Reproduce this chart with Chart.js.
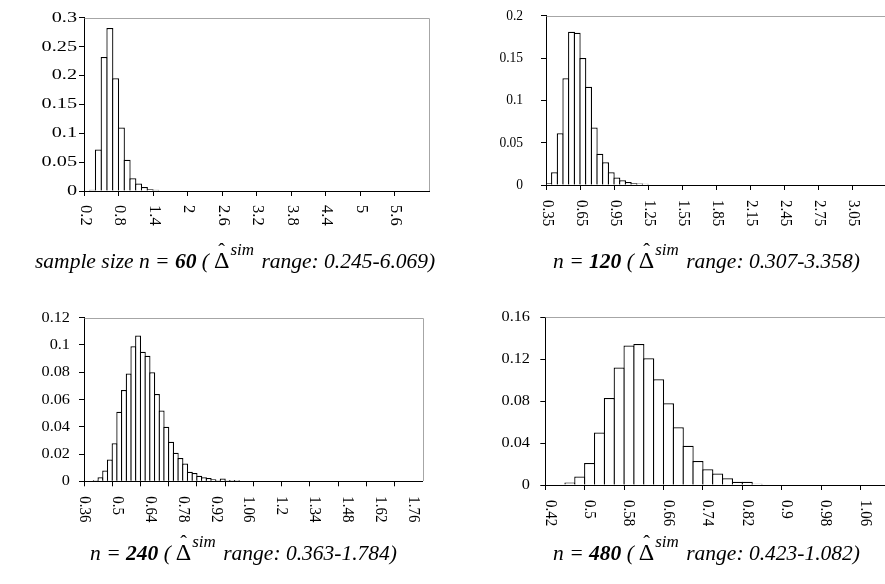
<!DOCTYPE html>
<html>
<head>
<meta charset="utf-8">
<script src="https://cdn.jsdelivr.net/npm/chart.js@4.4.1/dist/chart.umd.min.js"></script>
<style>
html, body { margin: 0; padding: 0; background: #fff; overflow: hidden; width: 885px; height: 584px; }
canvas { position: absolute; }
.cap { position: absolute; font: italic 21.5px 'Liberation Serif', 'Times New Roman', serif; line-height: 22px; white-space: nowrap; color: #000; }
.cap b { font-weight: bold; }
.d { position: relative; display: inline-block; font-style: normal; font-size: 24px; margin-left: 5px; }
.hat { position: absolute; left: 0; right: 0; top: -9px; text-align: center; font-size: 20px; }
.sup { position: relative; top: -13px; font-size: 17px; margin-left: 1px; margin-right: 2px; }
</style>
</head>
<body>
<canvas id="c1" width="442" height="290" style="left:0;top:0"></canvas>
<canvas id="c2" width="460" height="290" style="left:442px;top:0"></canvas>
<canvas id="c3" width="442" height="294" style="left:0;top:290px"></canvas>
<canvas id="c4" width="470" height="294" style="left:442px;top:290px"></canvas>

<div class="cap" style="left:35px;top:249px">sample size n = <b>60</b> (<span class="d">&Delta;<span class="hat">&#710;</span></span><span class="sup">sim</span> range: 0.245-6.069)</div>
<div class="cap" style="left:553px;top:249px">n = <b>120</b> (<span class="d">&Delta;<span class="hat">&#710;</span></span><span class="sup">sim</span> range: 0.307-3.358)</div>
<div class="cap" style="left:90px;top:541px">n = <b>240</b> (<span class="d">&Delta;<span class="hat">&#710;</span></span><span class="sup">sim</span> range: 0.363-1.784)</div>
<div class="cap" style="left:553px;top:541px">n = <b>480</b> (<span class="d">&Delta;<span class="hat">&#710;</span></span><span class="sup">sim</span> range: 0.423-1.082)</div>

<script>
// n = 60, bins of 0.1
const cats60 = ['0.2','0.3','0.4','0.5','0.6','0.7','0.8','0.9','1','1.1','1.2','1.3','1.4','1.5','1.6','1.7','1.8','1.9','2','2.1',
  '2.2','2.3','2.4','2.5','2.6','2.7','2.8','2.9','3','3.1','3.2','3.3','3.4','3.5','3.6','3.7','3.8','3.9','4','4.1',
  '4.2','4.3','4.4','4.5','4.6','4.7','4.8','4.9','5','5.1','5.2','5.3','5.4','5.5','5.6','5.7','5.8','5.9','6','6.1'];
const freq60 = [0,0.002,0.072,0.232,0.282,0.195,0.110,0.054,0.022,0.013,0.007,0.003,0.002,0,0,0,0,0,0,0,
  0,0,0,0,0,0,0,0,0,0,0,0,0,0,0,0,0,0,0,0,
  0,0,0,0,0,0,0,0,0,0,0,0,0,0,0,0,0,0,0,0];
const yTicks60 = ['0','0.05','0.1','0.15','0.2','0.25','0.3'];

// n = 120, bins of 0.05
const cats120 = ['0.35','0.4','0.45','0.5','0.55','0.6','0.65','0.7','0.75','0.8','0.85','0.9','0.95','1','1.05','1.1','1.15','1.2','1.25','1.3',
  '1.35','1.4','1.45','1.5','1.55','1.6','1.65','1.7','1.75','1.8','1.85','1.9','1.95','2','2.05','2.1','2.15','2.2','2.25','2.3',
  '2.35','2.4','2.45','2.5','2.55','2.6','2.65','2.7','2.75','2.8','2.85','2.9','2.95','3','3.05','3.1','3.15','3.2','3.25','3.3'];
const freq120 = [0.002,0.015,0.061,0.126,0.181,0.180,0.150,0.116,0.068,0.037,0.027,0.015,0.009,0.0055,0.0035,0.002,0.0018,0.0015,0,0,
  0,0,0,0,0,0,0,0,0,0,0,0,0,0,0,0,0,0,0,0,
  0,0,0,0,0,0,0,0,0,0,0,0,0,0,0,0,0,0,0,0];
const yTicks120 = ['0','0.05','0.1','0.15','0.2'];

// n = 240, bins of 0.02
const cats240 = ['0.36','0.38','0.4','0.42','0.44','0.46','0.48','0.5','0.52','0.54','0.56','0.58','0.6','0.62','0.64','0.66','0.68','0.7',
  '0.72','0.74','0.76','0.78','0.8','0.82','0.84','0.86','0.88','0.9','0.92','0.94','0.96','0.98','1','1.02','1.04','1.06',
  '1.08','1.1','1.12','1.14','1.16','1.18','1.2','1.22','1.24','1.26','1.28','1.3','1.32','1.34','1.36','1.38','1.4','1.42',
  '1.44','1.46','1.48','1.5','1.52','1.54','1.56','1.58','1.6','1.62','1.64','1.66','1.68','1.7','1.72','1.74','1.76','1.78'];
const freq240 = [0,0,0.001,0.003,0.008,0.016,0.028,0.051,0.067,0.079,0.099,0.107,0.095,0.092,0.080,0.064,0.052,0.040,
  0.029,0.021,0.017,0.013,0.007,0.006,0.004,0.003,0.0025,0.0015,0.001,0.002,0.001,0.001,0.001,0,0,0,
  0,0,0,0,0,0,0,0,0,0,0,0,0,0,0,0,0,0,
  0,0,0,0,0,0,0,0,0,0,0,0,0,0,0,0,0,0];
const yTicks240 = ['0','0.02','0.04','0.06','0.08','0.1','0.12'];

// n = 480, bins of 0.02
const cats480 = ['0.42','0.44','0.46','0.48','0.5','0.52','0.54','0.56','0.58','0.6','0.62','0.64','0.66','0.68','0.7','0.72','0.74','0.76',
  '0.78','0.8','0.82','0.84','0.86','0.88','0.9','0.92','0.94','0.96','0.98','1','1.02','1.04','1.06','1.08','1.1','1.12'];
const freq480 = [0,0,0.0025,0.008,0.021,0.050,0.083,0.112,0.133,0.1345,0.121,0.101,0.078,0.055,0.0375,0.023,0.015,0.011,
  0.0064,0.003,0.003,0.0013,0,0,0,0,0,0,0,0,0,0,0,0,0,0];
const yTicks480 = ['0','0.04','0.08','0.12','0.16'];

// draws the stretched axis texts and the grey plot frame
function axisText(o, yLabels) {
  return {
    id: 'axisText',
    afterDraw(chart) {
      const ctx = chart.ctx;
      const a = chart.chartArea;
      const xs = chart.scales.x, ys = chart.scales.y;
      ctx.save();
      ctx.strokeStyle = '#a6a6a6';
      ctx.lineWidth = 1;
      ctx.beginPath();
      ctx.moveTo(Math.round(a.left) + 0.5, Math.round(a.top) + 0.5);
      ctx.lineTo(Math.round(a.right) + 0.5, Math.round(a.top) + 0.5);
      ctx.lineTo(Math.round(a.right) + 0.5, Math.round(a.bottom));
      ctx.stroke();

      ctx.fillStyle = '#000';
      ctx.font = o.yFont + "px 'Liberation Serif', 'Times New Roman', serif";
      ctx.textAlign = 'right';
      ctx.textBaseline = 'middle';
      yLabels.forEach(t => {
        const py = ys.getPixelForValue(Number(t));
        ctx.save();
        ctx.translate(o.yRight - o.cx, py);
        ctx.scale(o.ySx, 1);
        ctx.fillText(t, 0, 0);
        ctx.restore();
      });

      ctx.font = o.xFont + "px 'Liberation Serif', 'Times New Roman', serif";
      ctx.textAlign = 'left';
      chart.data.labels.forEach((t, i) => {
        if (i % o.labelEvery) return;
        const px = xs.getPixelForValue(i) + o.xShift;
        ctx.save();
        ctx.translate(px, a.bottom + o.xGap);
        ctx.rotate(Math.PI / 2);
        ctx.scale(o.xLen, o.xThick);
        ctx.fillText(t, 0, 0);
        ctx.restore();
      });
      ctx.restore();
    }
  };
}

function hist(id, cats, freq, yLabels, o) {
  const w = (o.R - o.L) / cats.length;
  return new Chart(document.getElementById(id), {
    type: 'bar',
    data: {
      labels: cats,
      datasets: [{
        data: freq,
        backgroundColor: '#fff',
        borderColor: '#000',
        borderWidth: 1.25,
        borderSkipped: 'start',
        categoryPercentage: 1,
        barPercentage: (w + 1.25) / w
      }]
    },
    options: {
      responsive: false,
      animation: false,
      devicePixelRatio: 1,
      layout: { padding: { left: 0, bottom: 0, top: o.T - o.cy, right: o.cx + o.cw - o.R } },
      plugins: { legend: { display: false }, tooltip: { enabled: false } },
      scales: {
        x: {
          z: 1,
          offset: true,
          grid: {
            offset: true,
            drawOnChartArea: false,
            drawTicks: true,
            tickLength: 5,
            lineWidth: 1,
            color: c => (c.index % o.tickEvery === 0 ? '#000' : 'rgba(0,0,0,0)')
          },
          border: { display: true, color: '#000', width: 1 },
          ticks: { display: false, autoSkip: false },
          afterFit: s => { s.height = o.cy + o.ch - o.B; }
        },
        y: {
          z: 1,
          min: 0,
          max: o.yMax,
          ticks: { display: false, stepSize: o.yStep },
          grid: { drawOnChartArea: false, drawTicks: true, tickLength: 5, color: '#000' },
          border: { display: true, color: '#000', width: 1 },
          afterFit: s => { s.width = o.L - o.cx; }
        }
      }
    },
    plugins: [axisText(o, yLabels)]
  });
}

hist('c1', cats60, freq60, yTicks60, {
  cx: 0, cy: 0, cw: 442, ch: 290, L: 84, R: 429, T: 17.7, B: 191,
  yMax: 0.3, yStep: 0.05, tickEvery: 6, labelEvery: 6,
  yFont: 15, yRight: 77, ySx: 1.35, xFont: 15, xGap: 14, xShift: -2, xLen: 1.1, xThick: 1.1
});
hist('c2', cats120, freq120, yTicks120, {
  cx: 442, cy: 0, cw: 460, ch: 290, L: 546, R: 886.3, T: 15.7, B: 185,
  yMax: 0.2, yStep: 0.05, tickEvery: 6, labelEvery: 6,
  yFont: 15, yRight: 523, ySx: 0.9, xFont: 15, xGap: 15, xShift: -2, xLen: 1.0, xThick: 1.1
});
hist('c3', cats240, freq240, yTicks240, {
  cx: 0, cy: 290, cw: 442, ch: 294, L: 84, R: 422.7, T: 317.7, B: 481.3,
  yMax: 0.12, yStep: 0.02, tickEvery: 6, labelEvery: 7,
  yFont: 15.5, yRight: 70, ySx: 1.05, xFont: 15, xGap: 15, xShift: -2, xLen: 1.0, xThick: 1.15
});
hist('c4', cats480, freq480, yTicks480, {
  cx: 442, cy: 290, cw: 470, ch: 294, L: 545.3, R: 899.9, T: 317.3, B: 485,
  yMax: 0.16, yStep: 0.04, tickEvery: 4, labelEvery: 4,
  yFont: 15.5, yRight: 530, ySx: 1.05, xFont: 15, xGap: 15, xShift: 0, xLen: 1.0, xThick: 1.15
});
</script>
</body>
</html>
